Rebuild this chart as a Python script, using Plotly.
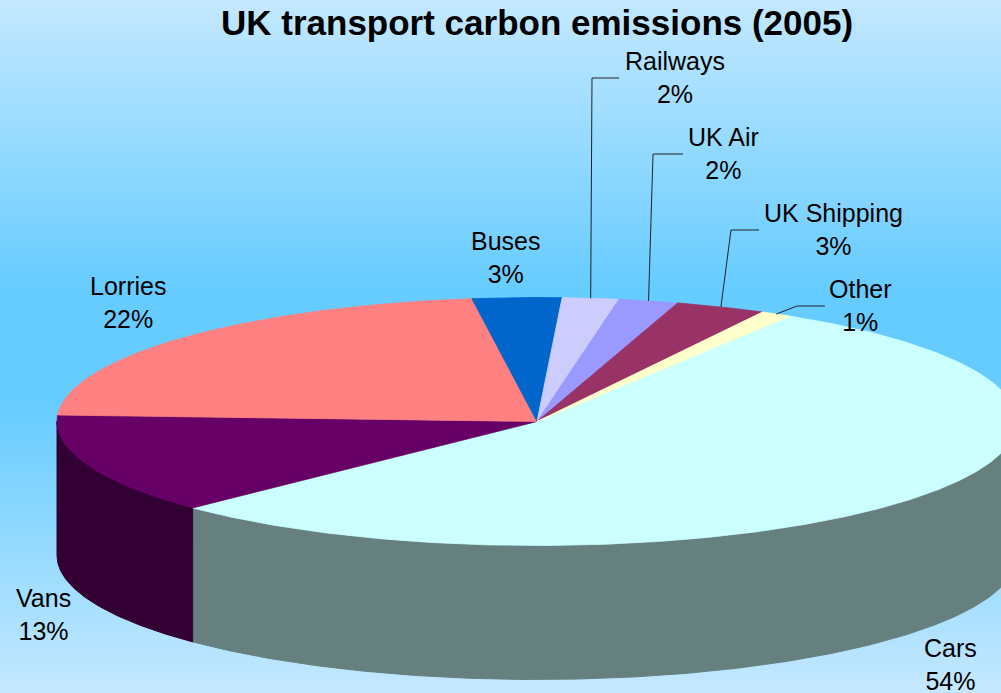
import numpy as np
import plotly.graph_objects as go

# ---------------- data ----------------
categories = ["Cars", "Vans", "Lorries", "Buses", "Railways", "UK Air", "UK Shipping", "Other"]
shares = [53.9, 13.1, 22.0, 3.0, 1.9, 2.0, 3.05, 1.05]
title_text = "UK transport carbon emissions (2005)"

# ---------------- styles / layout ----------------
top_colors = ["#CCFFFF", "#660066", "#FF8080", "#0066CC", "#CCCCFF", "#9999FF", "#993366", "#FFFFCC"]
W, H = 1001, 693
CX, CY, RX, RY, DEPTH = 537, 421.5, 480, 124, 134   # pie geometry in pixels
START_DEG = 58.2                                      # angle where first slice starts (clockwise)
FONT = "Liberation Sans, Arial, sans-serif"

label_x = [950, 43, 128, 505, 675, 723, 833, 860]
label_y = [664, 614, 302, 257, 77, 153, 229, 305]
# leader lines: category -> (elbow x, end x); elbow y = label y
leader_cfg = {"Railways": (592, 619), "UK Air": (653, 683), "UK Shipping": (731, 759), "Other": (797, 825)}


def hex_to_rgb(h):
    h = h.lstrip("#")
    return tuple(int(h[i:i + 2], 16) for i in (0, 2, 4))


def shade(h, f=0.5):
    r, g, b = hex_to_rgb(h)
    return "rgb(%d,%d,%d)" % (round(r * f), round(g * f), round(b * f))


def ell(theta_deg, dy=0.0):
    t = np.radians(theta_deg)
    return CX + RX * np.cos(t), CY - RY * np.sin(t) + dy


total = float(sum(shares))
fig = go.Figure()

# slice angle ranges (decreasing = clockwise)
bounds = []
cum = 0.0
for v in shares:
    a0 = START_DEG - 360.0 * cum / total
    cum += v
    a1 = START_DEG - 360.0 * cum / total
    bounds.append((a0, a1))

# ---- side walls (front half only) ----
front_intervals = [(-180.0, 0.0), (180.0, 360.0), (-540.0, -360.0)]
for (a0, a1), col in zip(bounds, top_colors):
    hi, lo = a0, a1
    for f_lo, f_hi in front_intervals:
        s_hi = min(hi, f_hi)
        s_lo = max(lo, f_lo)
        if s_hi - s_lo <= 0.01:
            continue
        n = max(int((s_hi - s_lo) * 2), 8)
        th = np.linspace(s_hi, s_lo, n)
        xt, yt = ell(th)
        xb, yb = ell(th[::-1], DEPTH)
        xs = np.concatenate([xt, xb, xt[:1]])
        ys = np.concatenate([yt, yb, yt[:1]])
        c = shade(col)
        fig.add_trace(go.Scatter(x=xs, y=ys, mode="lines", fill="toself", fillcolor=c,
                                 line=dict(color=c, width=1), hoverinfo="skip", showlegend=False))

# ---- top faces ----
for (a0, a1), col in zip(bounds, top_colors):
    n = max(int((a0 - a1) * 2), 8)
    th = np.linspace(a0, a1, n)
    xt, yt = ell(th)
    xs = np.concatenate([[CX], xt, [CX]])
    ys = np.concatenate([[CY], yt, [CY]])
    fig.add_trace(go.Scatter(x=xs, y=ys, mode="lines", fill="toself", fillcolor=col,
                             line=dict(color=col, width=0.8), hoverinfo="skip", showlegend=False))

# ---- leader lines ----
for i, name in enumerate(categories):
    if name not in leader_cfg:
        continue
    a0, a1 = bounds[i]
    ax, ay = ell((a0 + a1) / 2.0)
    ex, endx = leader_cfg[name]
    ly = label_y[i] + 1
    fig.add_trace(go.Scatter(x=[ax, ex, endx], y=[ay, ly, ly], mode="lines",
                             line=dict(color="#222222", width=1), hoverinfo="skip", showlegend=False))

# ---- labels ----
annotations = []
for i, name in enumerate(categories):
    pct = round(shares[i] / total * 100)
    annotations.append(dict(x=label_x[i], y=label_y[i], xref="x", yref="y",
                            text="%s<br>%d%%" % (name, pct), showarrow=False,
                            xanchor="center", yanchor="middle", align="center",
                            font=dict(family=FONT, size=25, color="#000000")))
annotations.append(dict(x=537, y=22, xref="x", yref="y", text="<b>%s</b>" % title_text,
                        showarrow=False, xanchor="center", yanchor="middle",
                        font=dict(family=FONT, size=35, color="#000000")))

# ---- background gradient ----
stops = [(0.0, (196, 232, 255)), (0.42, (102, 204, 255)), (0.58, (102, 204, 255)), (1.0, (196, 232, 255))]


def grad(f):
    for (f0, c0), (f1, c1) in zip(stops[:-1], stops[1:]):
        if f0 <= f <= f1:
            t = (f - f0) / (f1 - f0) if f1 > f0 else 0
            return "rgb(%d,%d,%d)" % tuple(round(c0[k] + (c1[k] - c0[k]) * t) for k in range(3))
    return "rgb(%d,%d,%d)" % stops[-1][1]


shapes = []
band = 3
for y0 in range(0, H, band):
    y1 = min(y0 + band, H)
    f = (y0 + y1) / 2.0 / H
    c = grad(f)
    shapes.append(dict(type="rect", xref="paper", yref="paper", x0=0, x1=1,
                       y0=1 - y1 / H - 0.001, y1=1 - y0 / H + 0.001,
                       fillcolor=c, line=dict(width=0), layer="below"))

fig.update_layout(
    width=W, height=H,
    margin=dict(l=0, r=0, t=0, b=0, pad=0),
    paper_bgcolor="#99D9FF", plot_bgcolor="rgba(0,0,0,0)",
    xaxis=dict(range=[0, W], visible=False, fixedrange=True),
    yaxis=dict(range=[H, 0], visible=False, fixedrange=True),
    shapes=shapes, annotations=annotations, showlegend=False,
)

fig.write_html("out.html")
